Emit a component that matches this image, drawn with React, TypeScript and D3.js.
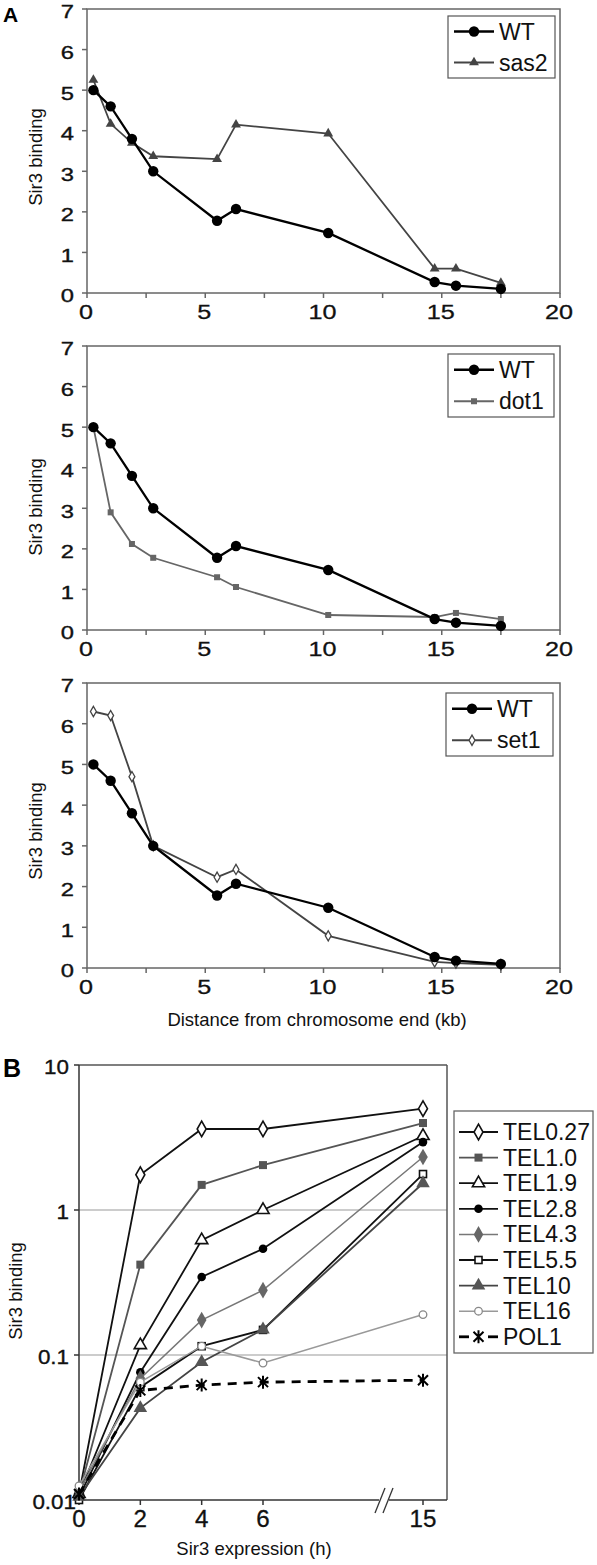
import React from 'react';
import * as d3 from 'd3';

// ---------- Panel A data ----------
const distKb = [0.27, 1.0, 1.9, 2.8, 5.5, 6.3, 10.2, 14.7, 15.6, 17.5];
const wtBinding = [5.0, 4.6, 3.8, 3.0, 1.78, 2.07, 1.48, 0.27, 0.18, 0.1];
const sas2Binding = [5.25, 4.17, 3.7, 3.37, 3.3, 4.15, 3.93, 0.6, 0.6, 0.25];
const dot1Binding = [5.0, 2.9, 2.12, 1.78, 1.3, 1.06, 0.37, 0.32, 0.42, 0.27];
const set1Binding = [6.3, 6.2, 4.7, 3.0, 2.23, 2.42, 0.79, 0.15, 0.12, 0.08];
const yTicksA = [0, 1, 2, 3, 4, 5, 6, 7];
const xTicksA = [0, 5, 10, 15, 20];
const xAllTicksA = [0, 2.5, 5, 7.5, 10, 12.5, 15, 17.5, 20];

// ---------- Panel B data ----------
const hours = [0, 2, 4, 6, 15];
const hourTicks = ['0', '2', '4', '6', '15'];
const tel027 = [0.011, 1.75, 3.62, 3.62, 5.0];
const tel10 = [0.011, 0.42, 1.49, 2.04, 3.98];
const tel19 = [0.011, 0.117, 0.62, 1.0, 3.24];
const tel28 = [0.0105, 0.076, 0.345, 0.54, 2.94];
const tel43 = [0.0115, 0.069, 0.174, 0.28, 2.32];
const tel55 = [0.01, 0.06, 0.115, 0.149, 1.77];
const tel10kb = [0.0105, 0.043, 0.0895, 0.15, 1.53];
const tel16 = [0.0125, 0.065, 0.115, 0.088, 0.19];
const pol1 = [0.011, 0.057, 0.062, 0.065, 0.067];
const yTicksB = [10, 1, 0.1, 0.01];
const yTickLabelsB = ['10', '1', '0.1', '0.01'];

const FONT = '"Liberation Sans", Arial, Helvetica, sans-serif';

function Txt({ x, y, size, sx = 1, anchor = 'start', heavy = 0, children }: {
  x: number; y: number; size: number; sx?: number; anchor?: string; heavy?: number; children: React.ReactNode;
}) {
  return (
    <text transform={`translate(${x},${y}) scale(${sx},1)`} textAnchor={anchor as any} dominantBaseline="central"
      fontSize={size} fontFamily={FONT} fill="#111" stroke={heavy ? '#111' : 'none'} strokeWidth={heavy}>
      {children}
    </text>
  );
}

type MarkerKind =
  | 'circle' | 'triangle' | 'square' | 'diamondOpenSmall'
  | 'diamondOpen' | 'squareFill' | 'triangleOpen' | 'circleFill'
  | 'diamondFill' | 'squareOpen' | 'triangleFill' | 'circleOpen' | 'star';

function Marker({ kind, x, y, color }: { kind: MarkerKind; x: number; y: number; color: string }) {
  const t = `translate(${x},${y})`;
  switch (kind) {
    case 'circle':
      return <circle cx={x} cy={y} r={5.2} fill={color} />;
    case 'triangle':
      return <path transform={t} d={d3.symbol(d3.symbolTriangle, 42)()!} fill={color} />;
    case 'square':
      return <rect x={x - 3} y={y - 3} width={6} height={6} fill={color} />;
    case 'diamondOpenSmall':
      return <path transform={t} d={d3.symbol(d3.symbolDiamond, 30)()!} fill="#fff" stroke={color} strokeWidth={1.3} />;
    case 'diamondOpen':
      return <path transform={t} d={d3.symbol(d3.symbolDiamond, 70)()!} fill="#fff" stroke={color} strokeWidth={1.6} />;
    case 'squareFill':
      return <rect x={x - 4} y={y - 4} width={8} height={8} fill={color} />;
    case 'triangleOpen':
      return <path transform={t} d={d3.symbol(d3.symbolTriangle, 65)()!} fill="#fff" stroke={color} strokeWidth={1.6} />;
    case 'circleFill':
      return <circle cx={x} cy={y} r={4.3} fill={color} />;
    case 'diamondFill':
      return <path transform={t} d={d3.symbol(d3.symbolDiamond, 80)()!} fill={color} />;
    case 'squareOpen':
      return <rect x={x - 3.5} y={y - 3.5} width={7} height={7} fill="#fff" stroke={color} strokeWidth={1.6} />;
    case 'triangleFill':
      return <path transform={t} d={d3.symbol(d3.symbolTriangle, 80)()!} fill={color} />;
    case 'circleOpen':
      return <circle cx={x} cy={y} r={3.8} fill="#fff" stroke={color} strokeWidth={1.3} />;
    case 'star':
      return (
        <path transform={t} d="M-5,-5L5,5M-5,5L5,-5M0,-6.5L0,6.5" stroke={color} strokeWidth={2} fill="none" />
      );
  }
  return null;
}

interface SeriesA {
  name: string;
  values: number[];
  color: string;
  width: number;
  marker: MarkerKind;
}

function PanelA({ top, bottom, mutant, titleY, legend, showXTitle }: {
  top: number; bottom: number; mutant: SeriesA; titleY: number;
  legend: { x0: number; x1: number; y0: number; y1: number }; showXTitle?: boolean;
}) {
  const x = d3.scaleLinear().domain([0, 20]).range([87, 560]);
  const y = d3.scaleLinear().domain([0, 7]).range([bottom, top]);
  const line = d3.line<number>().x((_, i) => x(distKb[i])).y((d) => y(d));
  const wt: SeriesA = { name: 'WT', values: wtBinding, color: '#000', width: 2.3, marker: 'circle' };
  const series = [mutant, wt];
  const rowH = (legend.y1 - legend.y0) / 2;
  const lx0 = legend.x0 + 6;
  const lx1 = legend.x0 + 46;
  return (
    <g>
      <rect x={x(0)} y={top} width={x(20) - x(0)} height={bottom - top} fill="none" stroke="#666" strokeWidth={1.5} />
      {yTicksA.map((t) => (
        <g key={'y' + t}>
          <line x1={x(0) - 5} x2={x(0)} y1={y(t)} y2={y(t)} stroke="#666" strokeWidth={1.5} />
          <Txt x={74} y={y(t) + 3} size={18} sx={1.32} anchor="end" heavy={0.35}>{t}</Txt>
        </g>
      ))}
      {xAllTicksA.map((t) => (
        <line key={'xt' + t} x1={x(t)} x2={x(t)} y1={bottom} y2={bottom + 5} stroke="#666" strokeWidth={1.5} />
      ))}
      {xTicksA.map((t) => (
        <Txt key={'xl' + t} x={x(t) - 1} y={bottom + 19} size={21} sx={1.2} anchor="middle" heavy={0.3}>{t}</Txt>
      ))}
      <text transform={`translate(35,${titleY}) rotate(-90)`} textAnchor="middle" dominantBaseline="central" fontSize={18.5} fontFamily={FONT} fill="#111">Sir3 binding</text>
      {showXTitle && (
        <text x={317} y={1019} textAnchor="middle" dominantBaseline="central" fontSize={18.5} fontFamily={FONT} fill="#111">Distance from chromosome end (kb)</text>
      )}
      {series.map((s) => (
        <g key={s.name}>
          <path d={line(s.values)!} fill="none" stroke={s.color} strokeWidth={s.width} />
          {s.values.map((v, i) => (
            <Marker key={i} kind={s.marker} x={x(distKb[i])} y={y(v)} color={s.color} />
          ))}
        </g>
      ))}
      <rect x={legend.x0} y={legend.y0} width={legend.x1 - legend.x0} height={legend.y1 - legend.y0} fill="#fff" stroke="#555" strokeWidth={1.2} />
      {[wt, mutant].map((s, i) => {
        const cy = legend.y0 + rowH * (i + 0.5);
        return (
          <g key={'lg' + s.name}>
            <line x1={lx0} x2={lx1} y1={cy} y2={cy} stroke={s.color} strokeWidth={s.width} />
            <Marker kind={s.marker} x={(lx0 + lx1) / 2} y={cy} color={s.color} />
            <Txt x={lx1 + 5} y={cy} size={23}>{s.name}</Txt>
          </g>
        );
      })}
    </g>
  );
}

interface SeriesB {
  name: string;
  values: number[];
  color: string;
  width: number;
  marker: MarkerKind;
  markerColor: string;
  dash?: string;
}

const seriesB: SeriesB[] = [
  { name: 'TEL0.27', values: tel027, color: '#111', width: 1.8, marker: 'diamondOpen', markerColor: '#111' },
  { name: 'TEL1.0', values: tel10, color: '#555', width: 1.8, marker: 'squareFill', markerColor: '#555' },
  { name: 'TEL1.9', values: tel19, color: '#111', width: 1.8, marker: 'triangleOpen', markerColor: '#111' },
  { name: 'TEL2.8', values: tel28, color: '#111', width: 1.8, marker: 'circleFill', markerColor: '#000' },
  { name: 'TEL4.3', values: tel43, color: '#777', width: 1.5, marker: 'diamondFill', markerColor: '#666' },
  { name: 'TEL5.5', values: tel55, color: '#111', width: 1.8, marker: 'squareOpen', markerColor: '#111' },
  { name: 'TEL10', values: tel10kb, color: '#444', width: 1.8, marker: 'triangleFill', markerColor: '#555' },
  { name: 'TEL16', values: tel16, color: '#999', width: 1.5, marker: 'circleOpen', markerColor: '#888' },
  { name: 'POL1', values: pol1, color: '#000', width: 2.8, marker: 'star', markerColor: '#000', dash: '9,7' },
];

function PanelB() {
  const top = 1065;
  const bottom = 1500;
  const left = 79;
  const right = 447;
  const x = d3.scaleLinear().domain([0, 6, 15]).range([79, 263, 423]);
  const y = d3.scaleLog().domain([0.01, 10]).range([bottom, top]);
  const line = d3.line<number>().x((_, i) => x(hours[i])).y((d) => y(d));
  const lg = { x0: 454, x1: 593, y0: 1111, y1: 1353 };
  const rowH = 25.6;
  return (
    <g>
      {[1, 0.1].map((g) => (
        <line key={'g' + g} x1={left} x2={right} y1={y(g)} y2={y(g)} stroke="#bbb" strokeWidth={1.5} />
      ))}
      <line x1={left} x2={right} y1={top} y2={top} stroke="#555" strokeWidth={1.5} />
      <line x1={right} x2={right} y1={top} y2={bottom} stroke="#555" strokeWidth={1.5} />
      <line x1={left} x2={left} y1={top} y2={bottom} stroke="#333" strokeWidth={1.5} />
      <line x1={left} x2={right} y1={bottom} y2={bottom} stroke="#333" strokeWidth={1.5} />
      <rect x={379} y={bottom - 3} width={10} height={6} fill="#fff" />
      <line x1={375} y1={1513} x2={385} y2={1488} stroke="#333" strokeWidth={1.3} />
      <line x1={383} y1={1513} x2={393} y2={1488} stroke="#333" strokeWidth={1.3} />
      {yTicksB.map((t, i) => (
        <g key={'yb' + t}>
          <line x1={left - 5} x2={left} y1={y(t)} y2={y(t)} stroke="#333" strokeWidth={1.5} />
          <Txt x={t === 0.01 ? 76 : 69} y={y(t) + 2} size={20} sx={1.12} anchor="end" heavy={0.35}>{yTickLabelsB[i]}</Txt>
        </g>
      ))}
      {hours.map((h, i) => (
        <g key={'xb' + h}>
          <line x1={x(h)} x2={x(h)} y1={bottom} y2={bottom + 5} stroke="#333" strokeWidth={1.5} />
          <Txt x={x(h)} y={bottom + 19} size={23} sx={1.05} anchor="middle" heavy={0.3}>{hourTicks[i]}</Txt>
        </g>
      ))}
      <text transform={`translate(15,1291) rotate(-90)`} textAnchor="middle" dominantBaseline="central" fontSize={18.5} fontFamily={FONT} fill="#111">Sir3 binding</text>
      <text x={254} y={1548} textAnchor="middle" dominantBaseline="central" fontSize={18.5} fontFamily={FONT} fill="#111">Sir3 expression (h)</text>
      {seriesB.map((s) => (
        <g key={s.name}>
          <path d={line(s.values)!} fill="none" stroke={s.color} strokeWidth={s.width} strokeDasharray={s.dash} />
          {s.values.map((v, i) => (
            <Marker key={i} kind={s.marker} x={x(hours[i])} y={y(v)} color={s.markerColor} />
          ))}
        </g>
      ))}
      <rect x={lg.x0} y={lg.y0} width={lg.x1 - lg.x0} height={lg.y1 - lg.y0} fill="#fff" stroke="#666" strokeWidth={1.3} />
      {seriesB.map((s, i) => {
        const cy = lg.y0 + 21 + i * rowH;
        const lx0 = lg.x0 + 5;
        const lx1 = lg.x0 + 44;
        return (
          <g key={'lgb' + s.name}>
            {s.dash ? (
              <g>
                <line x1={lx0} x2={lx0 + 10} y1={cy} y2={cy} stroke={s.color} strokeWidth={s.width} />
                <line x1={lx1 - 10} x2={lx1} y1={cy} y2={cy} stroke={s.color} strokeWidth={s.width} />
              </g>
            ) : (
              <line x1={lx0} x2={lx1} y1={cy} y2={cy} stroke={s.color} strokeWidth={s.width} />
            )}
            <Marker kind={s.marker} x={(lx0 + lx1) / 2} y={cy} color={s.markerColor} />
            <Txt x={lx1 + 5} y={cy} size={23}>{s.name}</Txt>
          </g>
        );
      })}
    </g>
  );
}

export default function App() {
  return (
    <svg width={597} height={1565} style={{ position: 'absolute', left: 0, top: 0, background: '#fff' }}>
      <rect x={0} y={0} width={597} height={1565} fill="#fff" />
      <text x={3} y={22} fontSize={21} fontWeight="bold" fontFamily={FONT}>A</text>
      <PanelA top={9} bottom={293} titleY={157}
        mutant={{ name: 'sas2', values: sas2Binding, color: '#444', width: 1.8, marker: 'triangle' }}
        legend={{ x0: 448, x1: 555, y0: 16, y1: 78 }} />
      <PanelA top={346} bottom={630} titleY={507}
        mutant={{ name: 'dot1', values: dot1Binding, color: '#666', width: 1.8, marker: 'square' }}
        legend={{ x0: 448, x1: 554, y0: 354, y1: 417 }} />
      <PanelA top={683} bottom={968} titleY={831} showXTitle
        mutant={{ name: 'set1', values: set1Binding, color: '#444', width: 1.8, marker: 'diamondOpenSmall' }}
        legend={{ x0: 446, x1: 553, y0: 693, y1: 756 }} />
      <text x={3} y={1077} fontSize={25} fontWeight="bold" fontFamily={FONT}>B</text>
      <PanelB />
    </svg>
  );
}
